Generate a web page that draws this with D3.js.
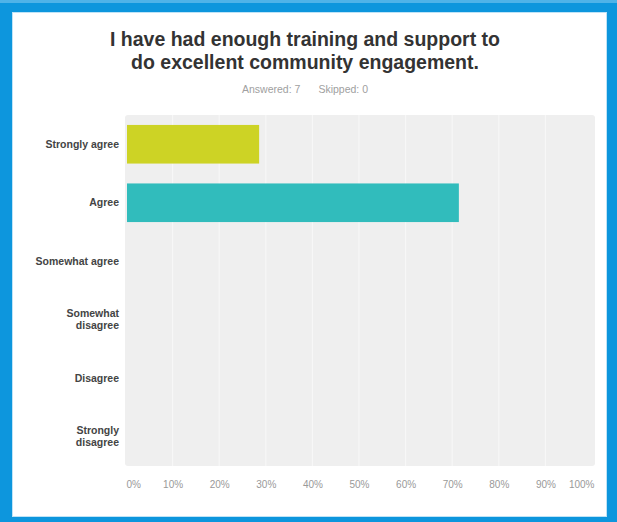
<!DOCTYPE html>
<html><head><meta charset="utf-8">
<script src="https://cdn.jsdelivr.net/npm/d3@7"></script>
<style>html,body{margin:0;padding:0;background:#fff;}svg{display:block;}</style>
</head><body>
<svg id="chart" width="617" height="522"></svg>
<script>
const categories = ["Strongly agree","Agree","Somewhat agree","Somewhat disagree","Disagree","Strongly disagree"];
const categoryLines = [["Strongly agree"],["Agree"],["Somewhat agree"],["Somewhat","disagree"],["Disagree"],["Strongly","disagree"]];
const values = [28.57, 71.43, 0, 0, 0, 0];
const barColors = ["#cdd325","#31bcbc","#cdd325","#31bcbc","#cdd325","#31bcbc"];
const tickValues = [0,10,20,30,40,50,60,70,80,90,100];
const tickLabels = ["0%","10%","20%","30%","40%","50%","60%","70%","80%","90%","100%"];
const titleLines = ["I have had enough training and support to","do excellent community engagement."];
const subtitle = ["Answered: 7","Skipped: 0"];

const svg = d3.select("#chart");
// blue frame
svg.append("rect").attr("x",0).attr("y",0).attr("width",617).attr("height",522).attr("fill","#0d96dd");
svg.append("rect").attr("x",0).attr("y",0).attr("width",617).attr("height",3).attr("fill","#4fb3e8");
svg.append("rect").attr("x",12.5).attr("y",12.5).attr("width",594).attr("height",504)
  .attr("fill","#fff").attr("stroke","#bfe3f6").attr("stroke-width",1);

const font = "'Liberation Sans', Arial, sans-serif";
svg.append("g").selectAll("text").data(titleLines).join("text")
  .attr("x",305).attr("y",(d,i)=>46+i*22.5).attr("text-anchor","middle")
  .attr("font-family",font).attr("font-weight","bold").attr("font-size",19.5)
  .attr("fill","#333").text(d=>d);

const sub = svg.append("text").attr("x",305).attr("y",93).attr("text-anchor","middle")
  .attr("font-family",font).attr("font-size",10.5).attr("fill","#a0a0a0");
sub.append("tspan").text(subtitle[0]);
sub.append("tspan").attr("dx",18).text(subtitle[1]);

const x = d3.scaleLinear().domain([0,100]).range([126,592]);
const y = d3.scaleBand().domain(categories).range([115,466]).paddingInner(0.34).paddingOuter(0.17);

// plot background
svg.append("rect").attr("x",125).attr("y",115).attr("width",470).attr("height",351)
  .attr("rx",3).attr("fill","#efefef");

// gridlines
svg.append("g").selectAll("line").data(tickValues.slice(1,-1)).join("line")
  .attr("x1",d=>x(d)).attr("x2",d=>x(d)).attr("y1",115).attr("y2",466)
  .attr("stroke","#f8f8f8").attr("stroke-width",1);

// bars
svg.append("g").selectAll("rect").data(values).join("rect")
  .attr("x",x(0)+1).attr("y",(d,i)=>y(categories[i]))
  .attr("width",d=>Math.max(0,x(d)-x(0)-1)).attr("height",y.bandwidth())
  .attr("fill",(d,i)=>barColors[i]);

// category labels
const lab = svg.append("g").selectAll("text").data(categoryLines).join("text")
  .attr("text-anchor","end").attr("font-family",font).attr("font-weight","bold")
  .attr("font-size",10.5).attr("fill","#444")
  .attr("transform",(d,i)=>`translate(119,${y(categories[i])+y.bandwidth()/2})`);
lab.selectAll("tspan").data(d=>d.map((t,j)=>({t,j,n:d.length}))).join("tspan")
  .attr("x",0).attr("y",d=>(d.j-(d.n-1)/2)*12+3.5).text(d=>d.t);

// x axis
const axis = d3.axisBottom(x).tickValues(tickValues).tickFormat((d,i)=>tickLabels[i]).tickSize(0).tickPadding(0);
const ax = svg.append("g").attr("transform","translate(0,481)").call(axis);
ax.select(".domain").remove();
ax.selectAll("text").attr("font-family",font).attr("font-size",10).attr("fill","#999")
  .attr("text-anchor",(d,i)=>i===0?"start":(i===tickValues.length-1?"end":"middle"))
  .attr("dx",(d,i)=>i===0?0:(i===tickValues.length-1?2:0));
</script>
</body></html>
